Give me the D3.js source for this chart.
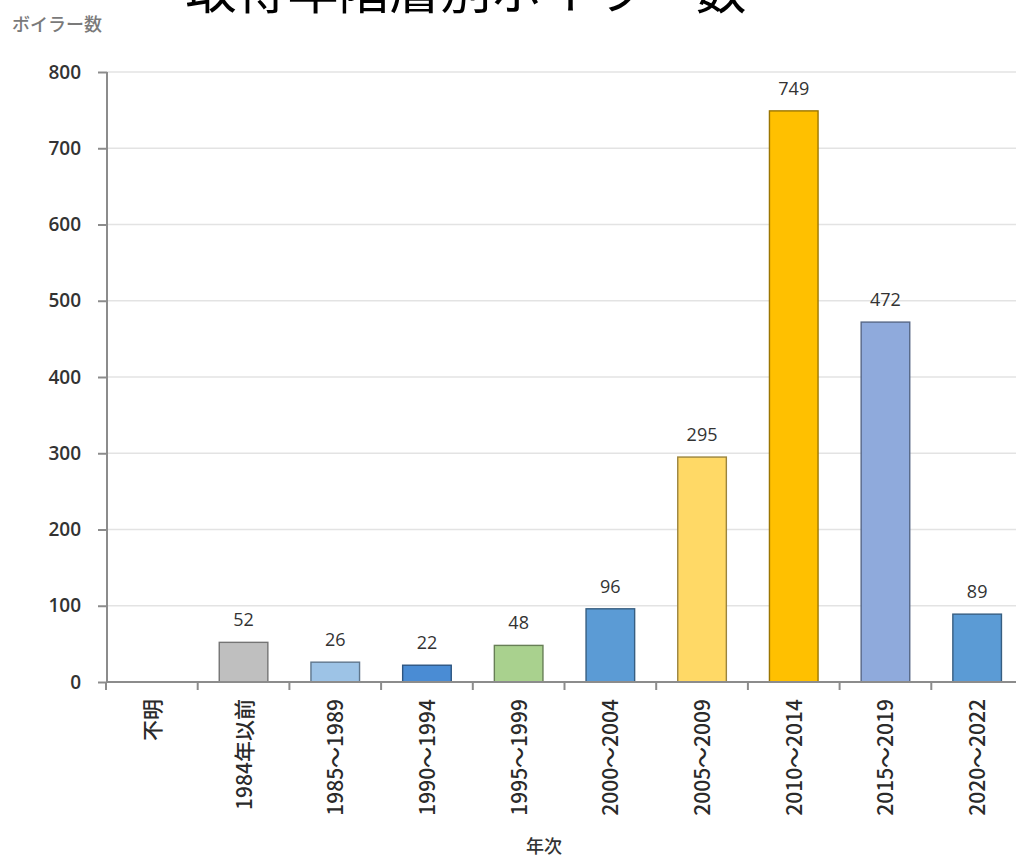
<!DOCTYPE html>
<html><head><meta charset="utf-8">
<script src="https://cdn.jsdelivr.net/npm/d3@7"></script>
<style>
html,body{margin:0;padding:0;background:#fff;}
svg{display:block;font-family:"Noto Sans CJK JP","Noto Sans",sans-serif;}
</style></head>
<body><svg id="c" width="1016" height="858"></svg>
<script>
const title = "取得年階層別ボイラー数";
const yTitle = "ボイラー数";
const xTitle = "年次";
const categories = ["不明","1984年以前","1985～1989","1990～1994","1995～1999","2000～2004","2005～2009","2010～2014","2015～2019","2020～2022"];
const values = [0,52,26,22,48,96,295,749,472,89];
const labels = ["","52","26","22","48","96","295","749","472","89"];
const fills = ["#BFBFBF","#BFBFBF","#9DC3E6","#4A8CD4","#A9D18E","#5B9BD5","#FFD966","#FFC000","#8FAADC","#5B9BD5"];
const yTicks = [0,100,200,300,400,500,600,700,800];

const svg = d3.select("#c");
const x = d3.scaleBand().domain(categories).range([106,1023]).paddingInner(0.47).paddingOuter(0.235);
const y = d3.scaleLinear().domain([0,800]).range([682,72]);

// gridlines
svg.append("g").selectAll("line").data(yTicks.filter(d=>d>0)).join("line")
  .attr("x1",107).attr("x2",1016).attr("y1",d=>y(d)).attr("y2",d=>y(d))
  .attr("stroke","#e3e3e3").attr("stroke-width",1.5);

// bars
svg.append("g").selectAll("rect").data(values.map((v,i)=>({v,i,c:categories[i]})).filter(d=>d.v>0)).join("rect")
  .attr("x",d=>x(d.c)).attr("width",x.bandwidth())
  .attr("y",d=>y(d.v)).attr("height",d=>y(0)-y(d.v))
  .attr("fill",d=>fills[d.i])
  .attr("stroke",d=>d3.color(fills[d.i]).darker(1.4))
  .attr("stroke-width",1.4);

// y axis
const ya = svg.append("g").attr("transform","translate(107,0)")
  .call(d3.axisLeft(y).tickValues(yTicks).tickSize(9).tickPadding(17));
ya.select(".domain").attr("stroke","#8c8c8c").attr("stroke-width",2).attr("d","M0,"+y(800)+"V"+y(0));
ya.selectAll(".tick line").attr("stroke","#8c8c8c").attr("stroke-width",2);
ya.selectAll(".tick text").attr("font-size",19).attr("fill","#333").attr("font-weight",600)
  .attr("font-family","'Open Sans','Noto Sans',sans-serif");

// x axis
const boundaries = categories.map(c=>x(c)-x.step()*x.paddingInner()/2);
const xg = svg.append("g");
xg.append("line").attr("x1",106).attr("x2",1016).attr("y1",y(0)).attr("y2",y(0))
  .attr("stroke","#8c8c8c").attr("stroke-width",2);
xg.selectAll("line.t").data(boundaries).join("line").attr("class","t")
  .attr("x1",d=>d).attr("x2",d=>d).attr("y1",y(0)).attr("y2",y(0)+8)
  .attr("stroke","#8c8c8c").attr("stroke-width",2);
xg.selectAll("text").data(categories).join("text")
  .attr("transform",d=>`translate(${x(d)+x.bandwidth()/2+8},699) rotate(-90)`)
  .attr("text-anchor","end").attr("font-size",21).attr("fill","#2a2a2a").attr("font-weight",500)
  .text(d=>d);

// data labels
svg.append("g").selectAll("text").data(values.map((v,i)=>({v,i,c:categories[i]})).filter(d=>labels[d.i]!=="")).join("text")
  .attr("x",d=>x(d.c)+x.bandwidth()/2).attr("y",d=>y(d.v)-16)
  .attr("text-anchor","middle").attr("font-size",18).attr("fill","#333")
  .attr("font-family","'Open Sans','Noto Sans',sans-serif")
  .text(d=>labels[d.i]);

// titles
svg.append("text").attr("x",466).attr("y",9).attr("text-anchor","middle")
  .attr("font-size",51).attr("fill","#000").text(title);
svg.append("text").attr("x",12).attr("y",31).attr("font-size",18).attr("fill","#7a7a7a").attr("font-weight",500).text(yTitle);
svg.append("text").attr("x",544).attr("y",853).attr("text-anchor","middle").attr("font-size",18).attr("fill","#333").attr("font-weight",500).text(xTitle);
</script></body></html>
